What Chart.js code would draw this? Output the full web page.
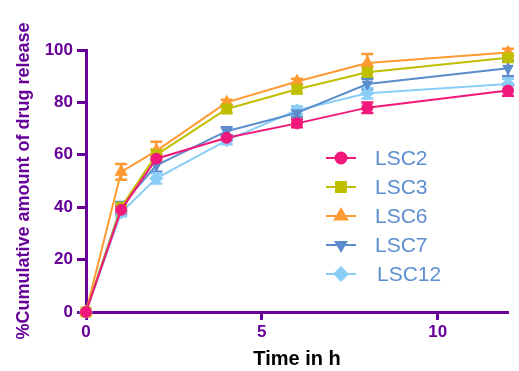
<!DOCTYPE html>
<html>
<head>
<meta charset="utf-8">
<script src="https://cdn.jsdelivr.net/npm/chart.js@4/dist/chart.umd.min.js"></script>
<style>
  html, body { margin: 0; padding: 0; background: #fff; }
  #wrap { width: 519px; height: 371px; }
</style>
</head>
<body>
<div id="wrap"><canvas id="chart" width="519" height="371"></canvas></div>
<script>
// thời gian (giờ)
const times = [0, 1, 2, 4, 6, 8, 12];

// % giải phóng thuốc tích lũy
const lsc2 = [0, 39, 58.5, 66.5, 72, 78, 84.5];
const lsc3 = [0, 40, 60, 77.5, 85, 91.5, 97];
const lsc6 = [0, 53.5, 61.5, 80, 88, 95, 99];
const lsc7 = [0, 40.5, 56, 69, 76, 87, 93];
const lsc12 = [0, 38, 51, 65.5, 77, 83.5, 87];

// độ lệch chuẩn (thanh sai số)
const sd2 = [0, 1.5, 1.5, 1, 1.5, 2, 2];
const sd3 = [0, 1.5, 2, 1.5, 1.5, 2, 1.5];
const sd6 = [0, 3, 3.5, 1, 1, 3.5, 1.5];
const sd7 = [0, 1.5, 2.5, 1.5, 1.5, 2, 3];
const sd12 = [0, 1.5, 2, 1.5, 1.5, 2, 2];

const labels = ["LSC2", "LSC3", "LSC6", "LSC7", "LSC12"];
const yTicks = [0, 20, 40, 60, 80, 100];
const xTicks = [0, 5, 10];

const purple = "#660099";
const font = "'Liberation Sans', Arial, sans-serif";

function series(label, values, sd, color, style, radius, rotation) {
  return {
    label: label,
    data: times.map((t, i) => ({ x: t, y: values[i] })),
    sd: sd,
    borderColor: color,
    backgroundColor: color,
    borderWidth: 2,
    pointStyle: style,
    pointRadius: radius,
    pointHoverRadius: radius,
    pointRotation: rotation || 0,
    pointBorderWidth: 1,
    tension: 0,
    clip: false,
  };
}

// vẽ thanh sai số phía sau các điểm
const errorBars = {
  id: "errorBars",
  beforeDatasetsDraw(chart) {
    const ctx = chart.ctx;
    const y = chart.scales.y;
    chart.data.datasets.forEach((ds, di) => {
      const meta = chart.getDatasetMeta(di);
      ctx.save();
      ctx.strokeStyle = ds.borderColor;
      ctx.lineWidth = 2.5;
      meta.data.forEach((pt, i) => {
        const s = ds.sd[i];
        if (!s) return;
        const v = ds.data[i].y;
        const top = y.getPixelForValue(v + s);
        const bot = y.getPixelForValue(v - s);
        ctx.beginPath();
        ctx.moveTo(pt.x, top);
        ctx.lineTo(pt.x, bot);
        ctx.moveTo(pt.x - 6, top);
        ctx.lineTo(pt.x + 6, top);
        ctx.moveTo(pt.x - 6, bot);
        ctx.lineTo(pt.x + 6, bot);
        ctx.stroke();
      });
      ctx.restore();
    });
  },
};

// chú thích tự vẽ bên trong vùng biểu đồ
const insideLegend = {
  id: "insideLegend",
  afterDraw(chart) {
    const ctx = chart.ctx;
    const x0 = 326, x1 = 356, tx = 375, y0 = 158, step = 29;
    chart.data.datasets.forEach((ds, i) => {
      const yy = y0 + i * step;
      ctx.save();
      ctx.strokeStyle = ds.borderColor;
      ctx.lineWidth = 2;
      ctx.beginPath();
      ctx.moveTo(x0, yy);
      ctx.lineTo(x1, yy);
      ctx.stroke();
      ctx.fillStyle = ds.backgroundColor;
      Chart.helpers.drawPoint(ctx, {
        pointStyle: ds.pointStyle,
        rotation: ds.pointRotation,
        radius: ds.pointRadius,
        borderWidth: 1,
      }, (x0 + x1) / 2, yy);
      ctx.fill();
      ctx.fillStyle = "#5b8fd0";
      ctx.font = "21px " + font;
      ctx.textBaseline = "middle";
      ctx.fillText(ds.label, i === 4 ? tx + 2 : tx, yy + 1);
      ctx.restore();
    });
  },
};

new Chart(document.getElementById("chart"), {
  type: "line",
  data: {
    datasets: [
      series(labels[0], lsc2, sd2, "#f0187a", "circle", 5.5),
      series(labels[1], lsc3, sd3, "#bfbf00", "rect", 7),
      series(labels[2], lsc6, sd6, "#ff9a33", "triangle", 7),
      series(labels[3], lsc7, sd7, "#5b8ccc", "triangle", 6, 180),
      series(labels[4], lsc12, sd12, "#8acdf7", "rectRot", 6.5),
    ],
  },
  options: {
    responsive: false,
    animation: false,
    layout: { padding: { top: 50, right: 11, left: 0, bottom: 0 } },
    plugins: {
      legend: { display: false },
      tooltip: { enabled: false },
    },
    scales: {
      x: {
        type: "linear",
        min: 0,
        max: 12,
        afterFit: (s) => { s.height = 59; },
        afterBuildTicks: (s) => { s.ticks = xTicks.map((v) => ({ value: v })); },
        ticks: {
          color: purple,
          font: { family: font, size: 17, weight: "bold" },
          padding: 2,
        },
        grid: {
          drawOnChartArea: false,
          drawTicks: true,
          tickLength: 8,
          tickColor: purple,
          tickWidth: 3,
        },
        border: { color: purple, width: 3 },
        title: {
          display: true,
          text: "Time in h",
          color: "#000",
          font: { family: font, size: 20, weight: "bold" },
          padding: { top: 8, bottom: 0 },
        },
      },
      y: {
        min: 0,
        max: 100,
        afterFit: (s) => { s.width = 86; },
        afterBuildTicks: (s) => { s.ticks = yTicks.map((v) => ({ value: v })); },
        ticks: {
          color: purple,
          font: { family: font, size: 17, weight: "bold" },
          padding: 4,
        },
        grid: {
          drawOnChartArea: false,
          drawTicks: true,
          tickLength: 9,
          tickColor: purple,
          tickWidth: 3,
        },
        border: { color: purple, width: 3 },
        title: {
          display: true,
          text: "%Cumulative amount of drug release",
          color: purple,
          font: { family: font, size: 18, weight: "bold" },
          padding: { top: 13, bottom: 0 },
        },
      },
    },
  },
  plugins: [errorBars, insideLegend],
});
</script>
</body>
</html>
